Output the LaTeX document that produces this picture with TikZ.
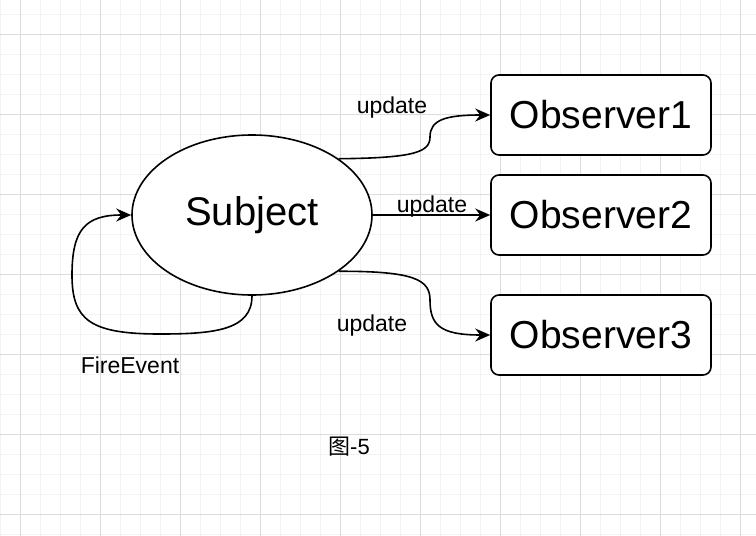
\documentclass[tikz,border=0pt]{standalone}
\usepackage{fontspec}
\setmainfont{Liberation Sans}
\newfontfamily\cjk{Noto Sans CJK SC}
\usetikzlibrary{arrows.meta,shapes.geometric}
\definecolor{gridminor}{HTML}{F3F3F3}
\definecolor{gridmajor}{HTML}{DCDCDC}

\begin{document}
\begin{tikzpicture}[x=1pt,y=-1pt,
    subject/.style={ellipse, draw, line width=1.6pt, minimum width=240pt, minimum height=160pt, inner sep=0pt, font=\fontsize{40}{48}\selectfont},
    observer/.style={draw, rounded corners=8pt, line width=1.6pt, minimum width=220pt, minimum height=80pt, inner sep=0pt, font=\fontsize{39}{47}\selectfont},
    msg/.style={inner sep=0pt, font=\fontsize{23}{28}\selectfont},
    link/.style={line width=1.6pt, -{Stealth[length=15pt,width=13pt,inset=5pt]}}
]% [ show background grid ]
    \fill[white] (0,0) rectangle (756,536);
    \useasboundingbox (0,0) rectangle (756,536);
    \foreach \x in {0,20,...,740} \draw[gridminor] (\x,0) -- (\x,536);
    \foreach \y in {14,34,...,534} \draw[gridminor] (0,\y) -- (756,\y);
    \foreach \x in {20,100,...,740} \draw[gridmajor] (\x,0) -- (\x,536);
    \foreach \y in {34,114,...,514} \draw[gridmajor] (0,\y) -- (756,\y);

    \node[subject, fill=white] (subj) at (252,215) {Subject};

    \node[observer, fill=white] (obs1) at (601,115) {Observer1};
    \node[observer, fill=white] (obs2) at (601,215) {Observer2};
    \node[observer, fill=white] (obs3) at (601,335) {Observer3};

    \draw[link] (subj.33) .. controls (415,158) and (430,152) .. (430,137) .. controls (430,120) and (445,115) .. (obs1.west);
    \draw[link] (subj.east) -- (obs2.west);
    \draw[link] (subj.-33) .. controls (415,271) and (430,280) .. (430,300) .. controls (430,325) and (440,335) .. (obs3.west);
    % FireEvent loop
    \draw[link] (subj.south) .. controls (252,330) and (215,334) .. (160,334) .. controls (90,334) and (72,320) .. (72,275) .. controls (72,230) and (85,215) .. (subj.west);

    \node[msg] (upd1) at (392,108) {update};
    \node[msg] (upd2) at (432,207) {update};
    \node[msg] (upd3) at (372,326) {update};
    \node[msg] (fire) at (130,365) {FireEvent};
    \node[msg, font=\fontsize{22}{26}\selectfont] (fig) at (349,447) {{\cjk 图}-5};

\end{tikzpicture}
\end{document}
